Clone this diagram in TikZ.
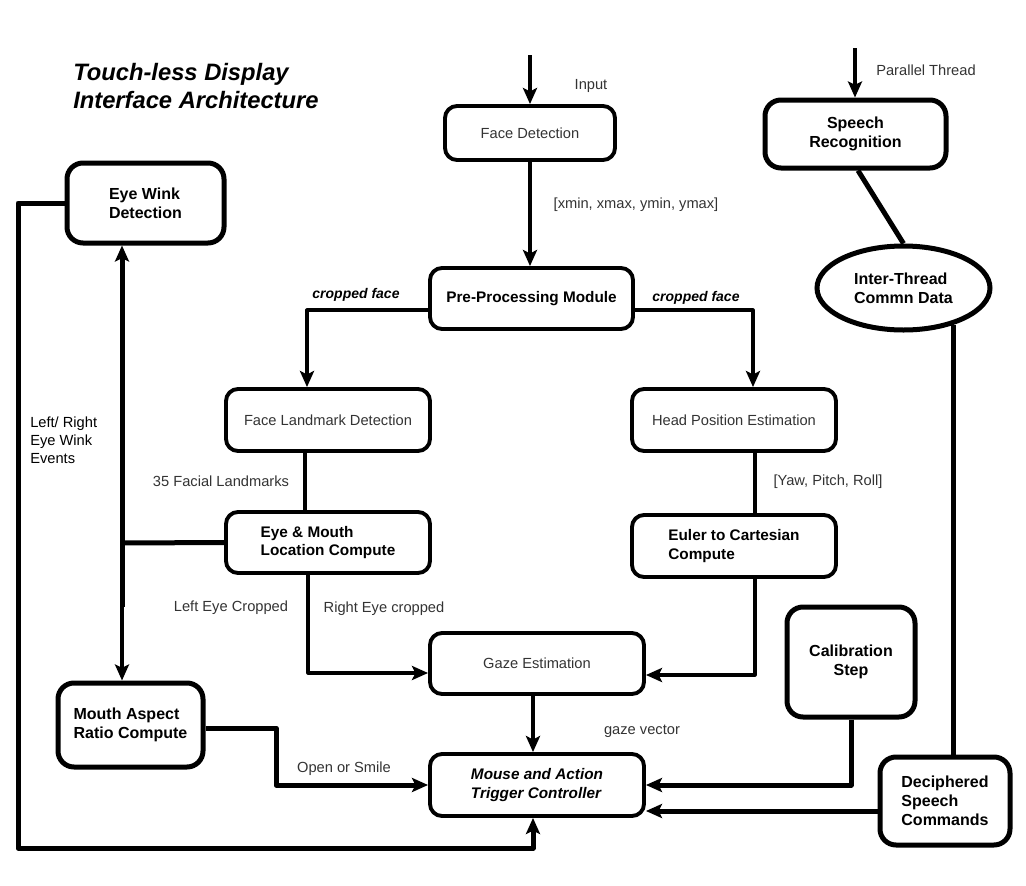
\documentclass[tikz,border=0pt]{standalone}
\usepackage{fontspec}
\setmainfont{Liberation Sans}
\usetikzlibrary{arrows.meta,shapes.geometric}
\tikzset{
  sz/.style 2 args={minimum width=#1*0.75pt, minimum height=#2*0.75pt},
  box/.style={draw, rounded corners=9pt, line width=2.9pt, inner sep=0pt, text=black!80,
    font=\fontsize{11}{14}\selectfont},
  bbox/.style={box, text=black, font=\fontsize{11.5}{14}\selectfont\bfseries},
  tbox/.style={bbox, line width=3.75pt, rounded corners=12pt, font=\fontsize{12}{14.3}\selectfont\bfseries},
  lbl/.style={inner sep=0pt, text=black!80, font=\fontsize{11}{14}\selectfont},
  conn/.style={line width=2.4pt, line join=round},
  tconn/.style={line width=3.75pt, line join=round},
  arr/.style={conn, -{Stealth[length=12pt,width=10.5pt,inset=2.5pt]}},
  tarr/.style={tconn, -{Stealth[length=12pt,width=10.5pt,inset=2.5pt]}},
}
\begin{document}
\begin{tikzpicture}[x=0.75pt,y=-0.75pt]
\useasboundingbox (0,0) rectangle (1026,886);

% title
\node[anchor=west, align=left, inner sep=0pt,
  font=\fontsize{17.8}{21}\selectfont\bfseries\itshape] (title) at (73,86)
  {Touch-less Display\\Interface Architecture};

% nodes
\node[box,sz={170}{54}] (fd) at (530,133) {Face Detection};
\node[bbox,sz={203}{61}] (pp) at (531.5,298.5) {Pre-Processing Module};
\node[box,sz={204}{62}] (fl) at (328,420) {Face Landmark Detection};
\node[box,sz={204}{62}] (hp) at (734,420) {Head Position Estimation};
\node[bbox,sz={204}{61},align=left] (em) at (328,542.5) {Eye \& Mouth\\Location Compute};
\node[bbox,sz={204}{62},align=left] (eu) at (734,546) {Euler to Cartesian\\Compute};
\node[box,sz={214}{61}] (ga) at (537,663.5) {Gaze Estimation};
\node[bbox,sz={214}{62},align=left,font=\fontsize{11.5}{14}\selectfont\bfseries\itshape] (mo) at (537,785) {Mouse and Action\\Trigger Controller};
\node[tbox,sz={157}{80},align=left] (ew) at (145.5,203) {Eye Wink\\Detection};
\node[tbox,sz={145}{84},align=left] (ma) at (130.5,725) {Mouth Aspect\\Ratio Compute};
\node[tbox,sz={181}{68},align=center] (sr) at (855.5,134) {Speech\\Recognition};
\node[tbox,ellipse,sz={173}{84},align=left] (el) at (903.5,288) {Inter-Thread\\Commn Data};
\node[tbox,sz={128}{110},align=center] (cal) at (851,662) {Calibration\\Step};
\node[tbox,sz={130}{88},align=left] (dc) at (945,801) {Deciphered\\Speech\\Commands};

% free ends
\coordinate (inp) at (530,55);
\coordinate (par) at (855,48);
\coordinate (j) at (122,543);

% labels
\node[lbl] (l1) at (591,86) {Input};
\node[lbl] (l2) at (636,205) {[xmin, xmax, ymin, ymax]};
\node[lbl,text=black,font=\fontsize{10.5}{13}\selectfont\bfseries\itshape] (l3) at (356,295) {cropped face};
\node[lbl,text=black,font=\fontsize{10.5}{13}\selectfont\bfseries\itshape] (l4) at (696,298) {cropped face};
\node[lbl] (l5) at (221,481) {35 Facial Landmarks};
\node[lbl] (l6) at (828,482) {[Yaw, Pitch, Roll]};
\node[lbl] (l7) at (231,608) {Left Eye Cropped};
\node[lbl] (l8) at (384,609) {Right Eye cropped};
\node[lbl] (l9) at (642,731) {gaze vector};
\node[lbl] (l10) at (344,769) {Open or Smile};
\node[lbl] (l11) at (926,70) {Parallel Thread};
\node[lbl,text=black,anchor=west,align=left,font=\fontsize{11}{13.5}\selectfont] (l12) at (30,440) {Left/ Right\\Eye Wink\\Events};

% connectors
\draw[arr] (inp) -- (fd.north -| inp);
\draw[arr] (par) -- (sr.north -| par);
\draw[arr] (fd.south) -- (fd.south |- pp.north);
\draw[arr] (pp.west |- 0,310) -| (fl.north -| 307,0);
\draw[arr] (pp.east |- 0,310) -| (hp.north -| 753,0);
\draw[conn] (fl.south -| 305,0) -- (em.north -| 305,0);
\draw[conn] (hp.south -| 755,0) -- (eu.north -| 755,0);
\draw[arr] (em.south -| 308,0) |- (ga.west |- 0,673);
\draw[arr] (eu.south -| 755,0) |- (ga.east |- 0,675);
\draw[arr] (ga.south -| 533,0) -- (mo.north -| 533,0);
\draw[tarr] (ew.west) -| (18,848) -| (mo.south -| 533,0);
\draw[tconn] (em.west) -- (j);
\draw[tarr] (j) -- (ew.south -| j);
\draw[tconn] (j) -- (122,607);
\draw[arr] (122,605) -- (ma.north -| j);
\draw[tarr] (ma.east |- 0,728) -| (mo.west -| 276,0) -- (mo.west);
\draw[tconn] (sr.south -| 858,0) -- (el.north);
\draw[tconn] (el.-36) -- (el.-36 |- dc.north);
\draw[tarr] (cal.south) |- (mo.east);
\draw[tarr] (dc.west |- 0,811) -- (mo.east |- 0,811);
\end{tikzpicture}
\end{document}
